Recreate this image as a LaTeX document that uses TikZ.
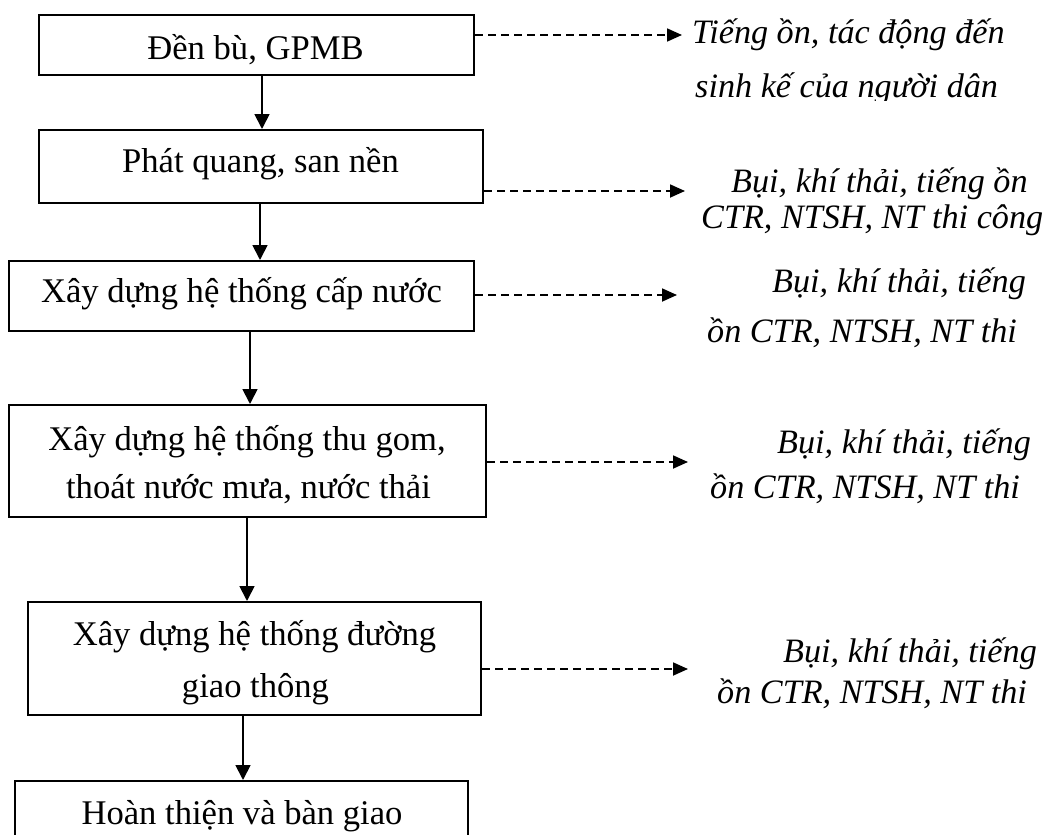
\documentclass[tikz,border=0pt]{standalone}
\usepackage{fontspec}
\setmainfont{Liberation Serif}
\usetikzlibrary{arrows.meta}
\begin{document}
\begin{tikzpicture}[x=1pt,y=-1pt,
  box/.style={draw,line width=2pt,inner sep=0pt},
  txt/.style={anchor=base,inner sep=0pt,font=\fontsize{34.6}{40}\selectfont},
  itxt/.style={anchor=base west,inner sep=0pt,font=\fontsize{34.2}{40}\selectfont\itshape},
  flow/.style={line width=1.8pt,-{Triangle[length=15pt,width=15pt]}},
  effect/.style={line width=1.8pt,dash pattern=on 8pt off 5pt,-{Triangle[length=15pt,width=13pt]}}]
\useasboundingbox (0,0) rectangle (1053,835);
\begin{scope}
\clip (0,0) rectangle (1053,835);
% boxes
\node[box,minimum width=435pt,minimum height=60pt] (b1) at (256.5,45) {};
\node[box,minimum width=444pt,minimum height=73pt] (b2) at (261,166.5) {};
\node[box,minimum width=465pt,minimum height=70pt] (b3) at (241.5,296) {};
\node[box,minimum width=477pt,minimum height=112pt] (b4) at (247.5,461) {};
\node[box,minimum width=453pt,minimum height=113pt] (b5) at (254.5,658.5) {};
\node[box,minimum width=453pt,minimum height=80pt] (b6) at (241.5,821) {};
% box texts
\node[txt] (t1) at (255.5,59) {Đền bù, GPMB};
\node[txt] (t2) at (260.5,172) {Phát quang, san nền};
\node[txt] (t3) at (241.5,302) {Xây dựng hệ thống cấp nước};
\node[txt] (t4a) at (247,450) {Xây dựng hệ thống thu gom,};
\node[txt] (t4b) at (248.5,498) {thoát nước mưa, nước thải};
\node[txt] (t5a) at (254.5,645) {Xây dựng hệ thống đường};
\node[txt] (t5b) at (255.5,697) {giao thông};
\node[txt] (t6) at (242,824) {Hoàn thiện và bàn giao};
% flow arrows
\draw[flow] (b1.south -| 262,0) -- (b2.north -| 262,0);
\draw[flow] (b2.south -| 260,0) -- (b3.north -| 260,0);
\draw[flow] (b3.south -| 250,0) -- (b4.north -| 250,0);
\draw[flow] (b4.south -| 247,0) -- (b5.north -| 247,0);
\draw[flow] (b5.south -| 243,0) -- (b6.north -| 243,0);
% effect arrows
\coordinate (e1) at (682,35);
\coordinate (e2) at (685,191);
\coordinate (e3) at (677,295);
\coordinate (e4) at (688,462);
\coordinate (e5) at (688,669);
\draw[effect] (b1.east |- e1) -- (e1);
\draw[effect] (b2.east |- e2) -- (e2);
\draw[effect] (b3.east |- e3) -- (e3);
\draw[effect] (b4.east |- e4) -- (e4);
\draw[effect] (b5.east |- e5) -- (e5);
% effect labels
\node[itxt] (l1a) at (692,43) {Tiếng ồn, tác động đến};
\begin{scope}
\clip (600,60) rectangle (1053,100);
\node[itxt] (l1b) at (695,97) {sinh kế của người dân};
\end{scope}
\node[itxt] (l2a) at (731,192) {Bụi, khí thải, tiếng ồn};
\node[itxt] (l2b) at (701,228) {CTR, NTSH, NT thi công};
\node[itxt] (l3a) at (772,292) {Bụi, khí thải, tiếng};
\node[itxt] (l3b) at (707,342) {ồn CTR, NTSH, NT thi};
\node[itxt] (l4a) at (777,453) {Bụi, khí thải, tiếng};
\node[itxt] (l4b) at (710,498) {ồn CTR, NTSH, NT thi};
\node[itxt] (l5a) at (783,662) {Bụi, khí thải, tiếng};
\node[itxt] (l5b) at (717,703) {ồn CTR, NTSH, NT thi};
\end{scope}
\end{tikzpicture}
\end{document}
